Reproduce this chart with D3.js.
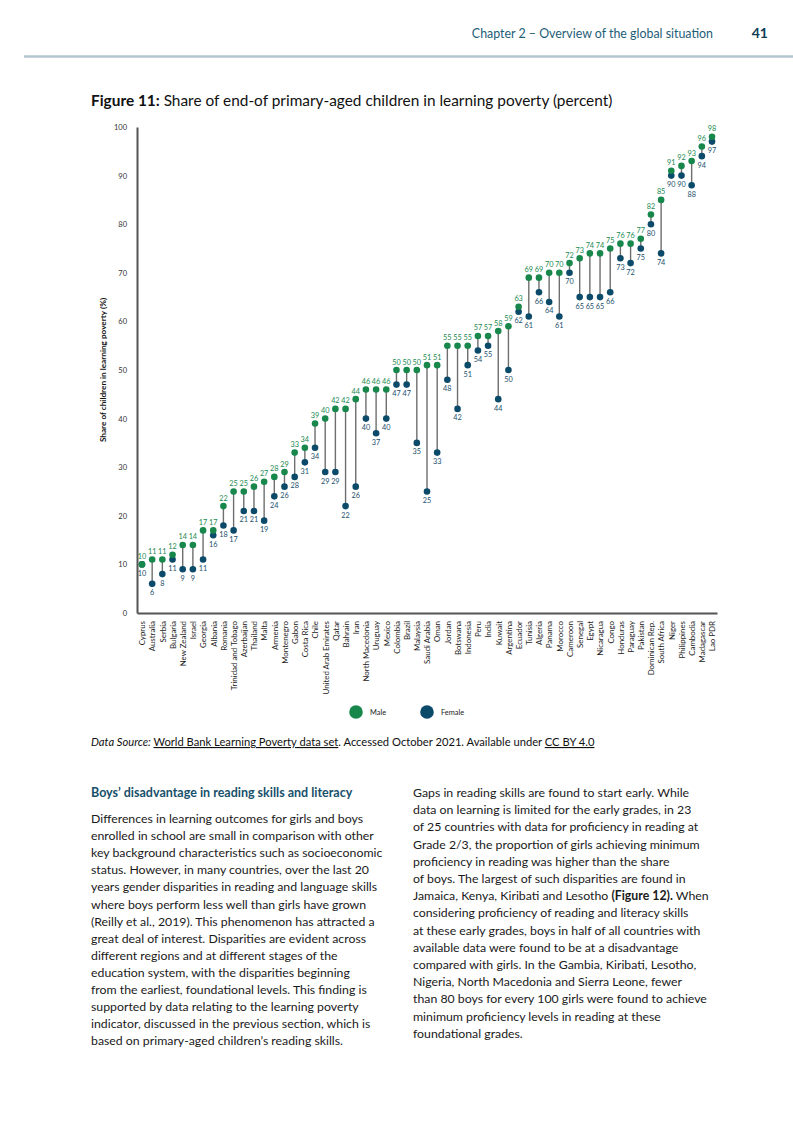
<!DOCTYPE html>
<html>
<head>
<meta charset="utf-8">
<script src="https://cdn.jsdelivr.net/npm/d3@7"></script>
<style>
  html, body { margin: 0; padding: 0; background: #fff; }
  svg { display: block; }
  text { font-family: Lato, "Open Sans", sans-serif; }
</style>
</head>
<body>
<div id="page"></div>
<script>
// ---------------- DATA ----------------
const countries = ["Cyprus","Australia","Serbia","Bulgaria","New Zealand","Israel","Georgia","Albania","Romania","Trinidad and Tobago","Azerbaijan","Thailand","Malta","Armenia","Montenegro","Gabon","Costa Rica","Chile","United Arab Emirates","Qatar","Bahrain","Iran","North Macedonia","Uruguay","Mexico","Colombia","Brazil","Malaysia","Saudi Arabia","Oman","Jordan","Botswana","Indonesia","Peru","India","Kuwait","Argentina","Ecuador","Tunisia","Algeria","Panama","Morocco","Cameroon","Senegal","Egypt","Nicaragua","Congo","Honduras","Paraguay","Pakistan","Dominican Rep.","South Africa","Niger","Philippines","Cambodia","Madagascar","Lao PDR"];
const maleValues = [10,11,11,12,14,14,17,17,22,25,25,26,27,28,29,33,34,39,40,42,42,44,46,46,46,50,50,50,51,51,55,55,55,57,57,58,59,63,69,69,70,70,72,73,74,74,75,76,76,77,82,85,91,92,93,96,98];
const femaleValues = [10,6,8,11,9,9,11,16,18,17,21,21,19,24,26,28,31,34,29,29,22,26,40,37,40,47,47,35,25,33,48,42,51,54,55,44,50,62,61,66,64,61,70,65,65,65,66,73,72,75,80,74,90,90,88,94,97];
const yTicks = [0,10,20,30,40,50,60,70,80,90,100];
const seriesNames = ["Male","Female"];

const leftParagraph = [
  "Differences in learning outcomes for girls and boys",
  "enrolled in school are small in comparison with other",
  "key background characteristics such as socioeconomic",
  "status. However, in many countries, over the last 20",
  "years gender disparities in reading and language skills",
  "where boys perform less well than girls have grown",
  "(Reilly et al., 2019). This phenomenon has attracted a",
  "great deal of interest. Disparities are evident across",
  "different regions and at different stages of the",
  "education system, with the disparities beginning",
  "from the earliest, foundational levels. This finding is",
  "supported by data relating to the learning poverty",
  "indicator, discussed in the previous section, which is",
  "based on primary-aged children\u2019s reading skills."
];
const rightParagraph = [
  "Gaps in reading skills are found to start early. While",
  "data on learning is limited for the early grades, in 23",
  "of 25 countries with data for proficiency in reading at",
  "Grade 2/3, the proportion of girls achieving minimum",
  "proficiency in reading was higher than the share",
  "of boys. The largest of such disparities are found in",
  "Jamaica, Kenya, Kiribati and Lesotho |(Figure 12).| When",
  "considering proficiency of reading and literacy skills",
  "at these early grades, boys in half of all countries with",
  "available data were found to be at a disadvantage",
  "compared with girls. In the Gambia, Kiribati, Lesotho,",
  "Nigeria, North Macedonia and Sierra Leone, fewer",
  "than 80 boys for every 100 girls were found to achieve",
  "minimum proficiency levels in reading at these",
  "foundational grades."
];

// ---------------- STYLE ----------------
const maleColor = "#17874b";
const femaleColor = "#0c4a6a";
const maleText = "#238a52";
const femaleText = "#1b4f6d";

const W = 793, H = 1122;
const svg = d3.select("#page").append("svg").attr("width", W).attr("height", H);

// Header
svg.append("text").attr("x", 713).attr("y", 38).attr("text-anchor", "end")
  .attr("font-size", 12.4).attr("fill", "#1d5d78")
  .text("Chapter 2 \u2013 Overview of the global situation");
svg.append("text").attr("x", 768).attr("y", 38).attr("text-anchor", "end")
  .attr("font-size", 14).attr("font-weight", "bold").attr("fill", "#0e3c55").text("41");
svg.append("line").attr("x1", 24).attr("x2", W).attr("y1", 56.5).attr("y2", 56.5)
  .attr("stroke", "#b3c6cf").attr("stroke-width", 2.5);

// Title
const title = svg.append("text").attr("x", 91).attr("y", 106).attr("font-size", 15.4).attr("fill", "#111");
title.append("tspan").attr("font-weight", "bold").text("Figure 11:");
title.append("tspan").text(" Share of end-of primary-aged children in learning poverty (percent)");

// ---------------- CHART ----------------
const x = d3.scalePoint().domain(countries).range([137, 717]).padding(0.49);
const y = d3.scaleLinear().domain([0, 100]).range([613, 127]);

const g = svg.append("g");

// y axis
const yAxis = g.append("g").attr("transform", `translate(${x.range()[0]},0)`)
  .call(d3.axisLeft(y).tickValues(yTicks).tickSize(0).tickPadding(10));
yAxis.select(".domain").attr("stroke", "#555").attr("stroke-width", 2);
yAxis.selectAll("text").attr("font-size", 7.5).attr("fill", "#333").attr("font-family", "Lato, sans-serif");

// x axis
const xAxis = g.append("g").attr("transform", `translate(0,${y(0)})`)
  .call(d3.axisBottom(x).tickSize(0).tickPadding(0));
xAxis.select(".domain").attr("stroke", "#555").attr("stroke-width", 2);
xAxis.selectAll("text")
  .attr("font-size", 7.9).attr("fill", "#222").attr("font-family", "Lato, sans-serif")
  .attr("text-anchor", "end").attr("dy", null)
  .attr("transform", "translate(2.8,8) rotate(-90)");

// y axis title
g.append("text").attr("transform", `translate(106,${(y(0) + y(100)) / 2}) rotate(-90)`)
  .attr("text-anchor", "middle").attr("font-size", 8.2).attr("font-weight", "bold").attr("fill", "#111")
  .text("Share of children in learning poverty (%)");

const rows = countries.map((c, i) => ({ c, m: maleValues[i], f: femaleValues[i] }));

// connectors
g.append("g").selectAll("line").data(rows).join("line")
  .attr("x1", d => x(d.c)).attr("x2", d => x(d.c))
  .attr("y1", d => y(d.m)).attr("y2", d => y(d.f))
  .attr("stroke", "#6e6e6e").attr("stroke-width", 1.4);

// dots
g.append("g").selectAll("circle").data(rows).join("circle")
  .attr("cx", d => x(d.c)).attr("cy", d => y(d.f)).attr("r", 3.3).attr("fill", femaleColor);
g.append("g").selectAll("circle").data(rows).join("circle")
  .attr("cx", d => x(d.c)).attr("cy", d => y(d.m)).attr("r", 3.3).attr("fill", maleColor);

// labels
g.append("g").selectAll("text").data(rows).join("text")
  .attr("x", d => x(d.c)).attr("y", d => y(d.m) - 5.5).attr("text-anchor", "middle")
  .attr("font-size", 7.3).attr("fill", maleText).text(d => d.m);
g.append("g").selectAll("text").data(rows).join("text")
  .attr("x", d => x(d.c)).attr("y", d => y(d.f) + 11.5).attr("text-anchor", "middle")
  .attr("font-size", 7.3).attr("fill", femaleText).text(d => d.f);

// legend
const legend = svg.append("g");
const legX = d3.scaleOrdinal().domain(seriesNames).range([356, 427]);
const legC = d3.scaleOrdinal().domain(seriesNames).range([maleColor, femaleColor]);
seriesNames.forEach(s => {
  legend.append("circle").attr("cx", legX(s)).attr("cy", 712).attr("r", 6.8).attr("fill", legC(s));
  legend.append("text").attr("x", legX(s) + 14).attr("y", 714.5).attr("font-size", 7.4).attr("fill", "#222").text(s);
});

// Data source
const src = svg.append("text").attr("x", 91).attr("y", 746).attr("font-size", 11.2).attr("fill", "#111");
src.append("tspan").attr("font-style", "italic").text("Data Source: ");
src.append("tspan").attr("text-decoration", "underline").text("World Bank Learning Poverty data set");
src.append("tspan").text(". Accessed October 2021. Available under ");
src.append("tspan").attr("text-decoration", "underline").text("CC BY 4.0");

// ---------------- BODY TEXT ----------------
svg.append("text").attr("x", 91).attr("y", 797).attr("font-size", 12.5).attr("font-weight", "bold")
  .attr("fill", "#17506b").text("Boys\u2019 disadvantage in reading skills and literacy");

function para(lines, x0, y0, lh) {
  lines.forEach((ln, i) => {
    const t = svg.append("text").attr("x", x0).attr("y", y0 + i * lh).attr("font-size", 12.3).attr("fill", "#1a1a1a");
    ln.split("|").forEach((seg, k) => {
      t.append("tspan").attr("font-weight", k % 2 === 1 ? "bold" : null).text(seg);
    });
  });
}
para(leftParagraph, 91, 823, 17.1);
para(rightParagraph, 413, 797, 17.2);
</script>
</body>
</html>
